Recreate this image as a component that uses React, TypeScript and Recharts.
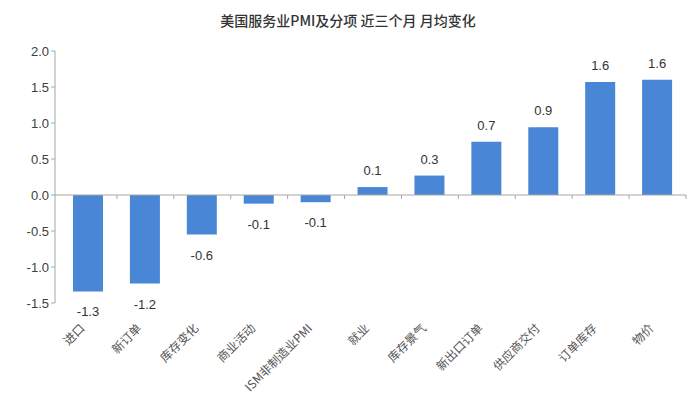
import React from 'react'
import { BarChart, Bar, XAxis, YAxis, ReferenceLine, LabelList } from 'recharts'

const categories = [
  '进口',
  '新订单',
  '库存变化',
  '商业活动',
  'ISM非制造业PMI',
  '就业',
  '库存景气',
  '新出口订单',
  '供应商交付',
  '订单库存',
  '物价',
]
const changes = [-1.34, -1.23, -0.55, -0.12, -0.1, 0.11, 0.27, 0.74, 0.94, 1.57, 1.6]
const yTicks = [-1.5, -1.0, -0.5, 0, 0.5, 1.0, 1.5, 2.0]

const data = categories.map((name, i) => ({ name, value: changes[i] }))

const AXIS_GRAY = '#a6a6a6'
const TEXT = '#404040'
const BLUE = '#4a86d6'
const X_PAD = 5

function CategoryTick(props: any) {
  const { x, y, payload } = props
  return (
    <g transform={`translate(${x - 3},${y + 18})`}>
      <text
        transform="rotate(-45)"
        textAnchor="end"
        fill="#555"
        fontSize={12}
        fontFamily="'Noto Sans CJK SC', sans-serif"
      >
        {payload.value}
      </text>
    </g>
  )
}

// zero line with small ticks between categories
function ZeroAxis(props: any) {
  const { x1, x2, y1 } = props
  const band = (x2 - x1 - X_PAD) / categories.length
  const ticks = []
  for (let i = 1; i <= categories.length; i++) {
    const tx = x1 + X_PAD + band * i
    ticks.push(<line key={i} x1={tx} x2={tx} y1={y1} y2={y1 + 4} stroke={AXIS_GRAY} />)
  }
  return (
    <g>
      <line x1={x1} x2={x2} y1={y1} y2={y1} stroke={AXIS_GRAY} />
      {ticks}
    </g>
  )
}

function ValueLabel(props: any) {
  const { x, y, width, height, value } = props
  const neg = value < 0
  return (
    <text
      x={x + width / 2}
      y={neg ? Math.max(y, y + height) + 25 : Math.min(y, y + height) - 12}
      textAnchor="middle"
      fill="#333"
      fontSize={13}
      fontFamily="Arial, 'Liberation Sans', sans-serif"
    >
      {value.toFixed(1)}
    </text>
  )
}

export default function App() {
  return (
    <div style={{ position: 'absolute', left: 0, top: 0, width: 696, height: 417, background: '#fff' }}>
      <div
        style={{
          position: 'absolute',
          top: 10,
          left: 0,
          width: 696,
          textAlign: 'center',
          fontSize: 14,
          fontWeight: 500,
          color: '#333',
          fontFamily: "'Noto Sans CJK SC', sans-serif",
        }}
      >
        美国服务业PMI及分项 近三个月 月均变化
      </div>
      <BarChart
        width={696}
        height={417}
        data={data}
        margin={{ top: 51, right: 10, bottom: 0, left: 10 }}
      >
        <XAxis
          dataKey="name"
          height={114}
          axisLine={false}
          tickLine={false}
          interval={0}
          padding={{ left: X_PAD, right: 0 }}
          tick={<CategoryTick />}
        />
        <YAxis
          domain={[-1.5, 2]}
          ticks={yTicks}
          width={45}
          axisLine={{ stroke: AXIS_GRAY }}
          tickLine={{ stroke: AXIS_GRAY }}
          tickSize={4}
          tickFormatter={(v: number) => v.toFixed(1)}
          tick={{ fill: TEXT, fontSize: 13, fontFamily: "Arial, 'Liberation Sans', sans-serif" }}
        />
        <ReferenceLine y={0} stroke={AXIS_GRAY} shape={<ZeroAxis />} />
        <Bar dataKey="value" fill={BLUE} barSize={30} isAnimationActive={false}>
          <LabelList dataKey="value" content={<ValueLabel />} />
        </Bar>
      </BarChart>
    </div>
  )
}
